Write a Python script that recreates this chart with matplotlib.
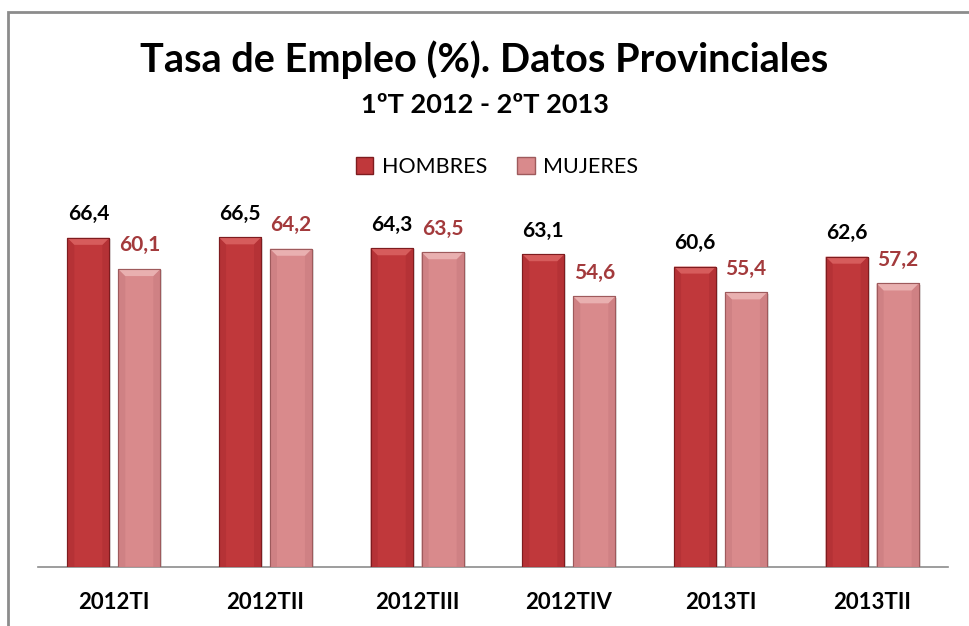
import matplotlib
matplotlib.use('Agg')
import matplotlib.pyplot as plt
from matplotlib.patches import Polygon, Patch, Rectangle
import numpy as np

plt.rcParams['font.family'] = ['Lato', 'DejaVu Sans']

# Data
categories = ['2012TI', '2012TII', '2012TIII', '2012TIV', '2013TI', '2013TII']
hombres = [66.4, 66.5, 64.3, 63.1, 60.6, 62.6]
mujeres = [60.1, 64.2, 63.5, 54.6, 55.4, 57.2]
series_names = ['HOMBRES', 'MUJERES']

# Styles: main, top bevel, side, edge
col_h = dict(main='#c0383b', top='#d65c5c', side='#b53236', edge='#7e1c1f')
col_m = dict(main='#d98a8c', top='#e9b0b0', side='#cf8184', edge='#9e5a5c')
label_col_m = '#a33a3c'

fig = plt.figure(figsize=(9.69, 6.26), dpi=100)
fig.patch.set_facecolor('white')

# Outer chart border
fig.add_artist(Rectangle((8 / 969, -0.05), 1.2, 1 - 12 / 626 + 0.05, transform=fig.transFigure,
                         fill=False, edgecolor='#8c8c8c', linewidth=2))

ax = fig.add_axes([38 / 969, 59 / 626, 910 / 969, 347 / 626])
ax.set_xlim(-0.5, len(categories) - 0.5)
ax.set_ylim(0, 70)

x = np.arange(len(categories))
w = 0.277
off = 0.168

# bevel size in data units (~7 px)
px_x = 1 / 151.7
px_y = 70 / 347
bx = 7 * px_x
by = 7 * px_y


def bevel_bars(xpos, vals, c, zorder=3):
    bars = ax.bar(xpos, vals, w, color=c['main'], edgecolor=c['edge'], linewidth=0.8, zorder=zorder)
    for b in bars:
        x0 = b.get_x()
        x1 = x0 + b.get_width()
        h = b.get_height()
        # shadow
        ax.add_patch(Rectangle((x0 + 2 * px_x, -1.2 * px_y), b.get_width(), h, color='#000000',
                               alpha=0.12, zorder=zorder - 1, linewidth=0))
        # side strips
        ax.add_patch(Polygon([(x0, 0), (x0, h), (x0 + bx, h - by), (x0 + bx, 0)],
                             closed=True, facecolor=c['side'], edgecolor='none', zorder=zorder + 0.1))
        ax.add_patch(Polygon([(x1, 0), (x1, h), (x1 - bx, h - by), (x1 - bx, 0)],
                             closed=True, facecolor=c['side'], edgecolor='none', zorder=zorder + 0.1))
        # top bevel
        ax.add_patch(Polygon([(x0, h), (x1, h), (x1 - bx, h - by), (x0 + bx, h - by)],
                             closed=True, facecolor=c['top'], edgecolor='none', zorder=zorder + 0.2))
        ax.add_patch(Rectangle((x0, 0), b.get_width(), h, fill=False, edgecolor=c['edge'],
                               linewidth=0.8, zorder=zorder + 0.3))
    return bars


bars_h = bevel_bars(x - off, hombres, col_h)
bars_m = bevel_bars(x + off, mujeres, col_m)

for b, v in zip(bars_h, hombres):
    ax.annotate(f'{v:.1f}'.replace('.', ','), (b.get_x() + b.get_width() / 2, v),
                xytext=(0, 17), textcoords='offset points', ha='center', va='center',
                fontsize=15, fontweight='bold', color='black')
for b, v in zip(bars_m, mujeres):
    ax.annotate(f'{v:.1f}'.replace('.', ','), (b.get_x() + b.get_width() / 2, v),
                xytext=(0, 17), textcoords='offset points', ha='center', va='center',
                fontsize=15, fontweight='bold', color=label_col_m)

ax.set_xticks(x)
ax.set_xticklabels(categories, fontsize=16, fontweight='bold')
ax.tick_params(axis='x', length=0, pad=18)
ax.set_yticks([])
for s in ['top', 'right', 'left']:
    ax.spines[s].set_visible(False)
ax.spines['bottom'].set_color('#8c8c8c')
ax.spines['bottom'].set_linewidth(1.2)
ax.patch.set_alpha(0)

fig.text(0.5, 1 - 60 / 626, 'Tasa de Empleo (%). Datos Provinciales', ha='center', va='center',
         fontsize=28.5, fontweight='bold')
fig.text(0.5, 1 - 105 / 626, '1ºT 2012 - 2ºT 2013', ha='center', va='center',
         fontsize=19.5, fontweight='bold')

handles = [Patch(facecolor=col_h['main'], edgecolor=col_h['edge']),
           Patch(facecolor=col_m['main'], edgecolor=col_m['edge'])]
fig.legend(handles, series_names, loc='center', bbox_to_anchor=(0.513, 1 - 167 / 626), ncol=2,
           frameon=False, fontsize=15.5, handlelength=0.8, handleheight=0.8, handletextpad=0.4,
           columnspacing=1.4)

fig.savefig('out.png', dpi=100)
